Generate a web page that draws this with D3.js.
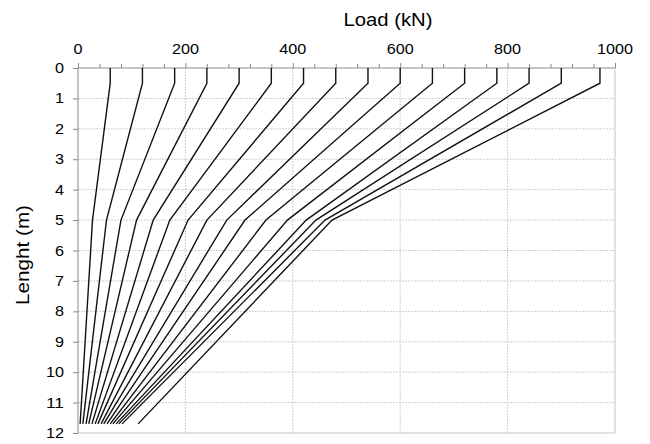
<!DOCTYPE html>
<html><head><meta charset="utf-8">
<script src="https://cdn.jsdelivr.net/npm/d3@7"></script>
<style>body{margin:0;background:#fff}svg{display:block}text{font-family:"Liberation Sans",Arial,sans-serif}</style>
</head><body><svg id="c" width="650" height="444"></svg>
<script>
const xTicks = [0, 200, 400, 600, 800, 1000];
const yTicks = [0,1,2,3,4,5,6,7,8,9,10,11,12];
const depths = [0, 0.5, 5, 11.7];
const headLoad = [60,120,180,240,300,360,420,480,540,600,660,720,780,840,900,972];
const loadAt5  = [27,53,80,109,140,171,205,240,277,311,350,390,425,443,460,473];
const toeLoad  = [4,9,15,20,26,32,37,43,48,54,60,65,71,76,82,112];

const svg = d3.select("#c");
const x = d3.scaleLinear().domain([0,1000]).range([78,615]);
const y = d3.scaleLinear().domain([0,12]).range([68,433]);
const grey = "#8a8a8a";

// gridlines
svg.append("g").selectAll("line").data([200,400,600,800]).join("line")
  .attr("x1",d=>x(d)).attr("x2",d=>x(d)).attr("y1",y(0)).attr("y2",y(12))
  .attr("stroke","#cfcfcf").attr("stroke-width",1).attr("stroke-dasharray","2,1");
svg.append("g").selectAll("line").data(d3.range(1,12)).join("line")
  .attr("x1",x(0)).attr("x2",x(1000)).attr("y1",d=>y(d)).attr("y2",d=>y(d))
  .attr("stroke","#cfcfcf").attr("stroke-width",1).attr("stroke-dasharray","2,1");
// border right/bottom
svg.append("line").attr("x1",x(1000)).attr("x2",x(1000)).attr("y1",y(0)).attr("y2",y(12)).attr("stroke","#c4c4c4");
svg.append("line").attr("x1",x(0)).attr("x2",x(1000)).attr("y1",y(12)).attr("y2",y(12)).attr("stroke","#c4c4c4");

// top axis
const xa = svg.append("g").attr("transform",`translate(0,${y(0)})`)
  .call(d3.axisTop(x).tickValues(d3.range(0,1001,40)).tickSize(4).tickFormat(""));
xa.selectAll("line").attr("stroke",grey);
xa.selectAll(".tick line").filter(d=>d%200===0).attr("y2",-5);
xa.select(".domain").attr("stroke",grey).attr("d",`M${x(0)},0H${x(1000)}`);
svg.append("g").selectAll("text").data(xTicks).join("text")
  .attr("x",d=>x(d)).attr("y",54).attr("text-anchor","middle")
  .attr("font-size",14).attr("textLength",d=>String(d).length*9).attr("lengthAdjust","spacingAndGlyphs")
  .text(d=>d);

// left axis
const ya = svg.append("g").attr("transform",`translate(${x(0)},0)`)
  .call(d3.axisLeft(y).tickValues(yTicks).tickSize(5).tickFormat(""));
ya.selectAll("line").attr("stroke",grey);
ya.select(".domain").attr("stroke",grey).attr("d",`M0,${y(0)}V${y(12)}`);
svg.append("g").selectAll("text").data(yTicks).join("text")
  .attr("x",64).attr("y",d=>y(d)+5).attr("text-anchor","end")
  .attr("font-size",14).attr("textLength",d=>String(d).length*9).attr("lengthAdjust","spacingAndGlyphs")
  .text(d=>d);

// titles
svg.append("text").attr("x",388).attr("y",26).attr("text-anchor","middle")
  .attr("font-size",17.5).attr("textLength",89).attr("lengthAdjust","spacingAndGlyphs").text("Load (kN)");
svg.append("text").attr("transform","translate(29,255) rotate(-90)").attr("text-anchor","middle")
  .attr("font-size",18).attr("textLength",100).attr("lengthAdjust","spacingAndGlyphs").text("Lenght (m)");

// curves
const line = d3.line().x(d=>x(d[0])).y(d=>y(d[1]));
const series = headLoad.map((h,i)=>[[h,depths[0]],[h,depths[1]],[loadAt5[i],depths[2]],[toeLoad[i],depths[3]]]);
svg.append("g").selectAll("path").data(series).join("path")
  .attr("d",line).attr("fill","none").attr("stroke","#111").attr("stroke-width",1.4);
</script></body></html>
